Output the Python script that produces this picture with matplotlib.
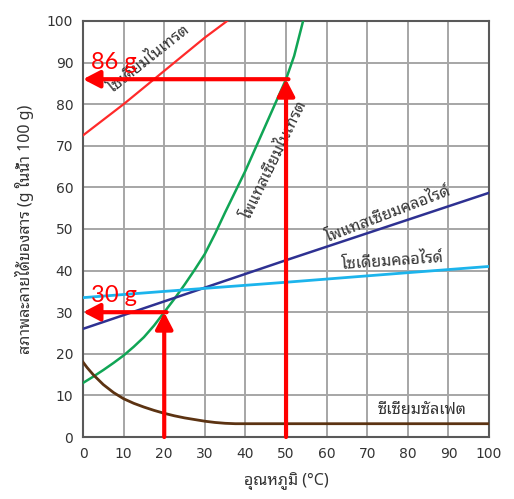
import numpy as np
import matplotlib
matplotlib.use("Agg")
import matplotlib.pyplot as plt

# --- data (temperature in C, solubility in g / 100 g water) ---
nano3_t = [0, 10, 20, 30, 35.5]
nano3_s = [72.5, 80, 88, 96, 100]

kno3_t = [0, 2.5, 5, 7.5, 10, 12.5, 15, 17.5, 20, 22.5, 25, 27.5, 30,
          32.5, 35, 37.5, 40, 42.5, 45, 47.5, 50, 52, 54.2]
kno3_s = [13, 14.5, 16.1, 17.8, 19.6, 21.7, 24, 26.8, 30, 33.2, 36.6, 40.2, 44,
          48.8, 54, 59, 64, 69.5, 75, 80.5, 86, 91.6, 100]

kcl_t = [0, 20, 50, 100]
kcl_s = [26, 32.6, 42.5, 58.7]

nacl_t = [0, 20, 50, 80, 100]
nacl_s = [33.5, 35, 37.2, 39.5, 41]

ce_t = [0, 1, 2.5, 5, 7.5, 10, 12.5, 15, 17.5, 20, 22.5, 25, 27.5, 30,
        32.5, 35, 37.5, 40, 100]
ce_s = [18, 16.7, 15, 12.6, 10.7, 9.2, 8.1, 7.2, 6.4, 5.7, 5.1, 4.6, 4.2, 3.8,
        3.5, 3.3, 3.2, 3.2, 3.2]

# read-off points (temperature, solubility)
read_points = [(50, 86), (20, 30)]
read_labels = ["86 g", "30 g"]

thai = ['Noto Sans Thai Looped', 'DejaVu Sans']
txt_col = '#333333'
arrow_red = '#ff0000'

fig = plt.figure(figsize=(5.14, 4.99), dpi=100)
ax = fig.add_axes([0.1615, 0.1242, 0.790, 0.8338])

ax.plot(nano3_t, nano3_s, color='#ff2a2a', lw=1.6, zorder=3)
ax.plot(kno3_t, kno3_s, color='#10a555', lw=1.8, zorder=3)
ax.plot(kcl_t, kcl_s, color='#2e3192', lw=1.8, zorder=3)
ax.plot(nacl_t, nacl_s, color='#1cb4ec', lw=2.0, zorder=3)
ax.plot(ce_t, ce_s, color='#5c3312', lw=2.0, zorder=3)

# curve names
fs = 11.5
ax.text(16.4, 90.8, "โซเดียมไนเทรต", rotation=38.5, ha='center', va='center',
        fontsize=fs, color=txt_col, family=thai, zorder=4)
ax.text(47.3, 66.6, "โพแทสเซียมไนเทรต", rotation=64, ha='center', va='center',
        fontsize=fs, color=txt_col, family=thai, zorder=4)
ax.text(75.3, 53.6, "โพแทสเซียมคลอไรด์", rotation=21, ha='center', va='center',
        fontsize=fs, color=txt_col, family=thai, zorder=4)
ax.text(76.2, 42.3, "โซเดียมคลอไรด์", rotation=4, ha='center', va='center',
        fontsize=fs, color=txt_col, family=thai, zorder=4)
ax.text(83.5, 6.6, "ซีเซียมซัลเฟต", ha='center', va='center',
        fontsize=fs, color=txt_col, family=thai, zorder=4)

# read-off arrows
for (t, s), lab in zip(read_points, read_labels):
    style = '-|>,head_length=1.0,head_width=0.52'
    ax.annotate('', xy=(0, s), xytext=(t + 0.6, s),
                arrowprops=dict(arrowstyle=style, color=arrow_red, lw=3,
                                shrinkA=0, shrinkB=0, mutation_scale=10),
                zorder=6, annotation_clip=False)
    ax.annotate('', xy=(t, s), xytext=(t, 0),
                arrowprops=dict(arrowstyle=style, color=arrow_red, lw=3,
                                shrinkA=0, shrinkB=0, mutation_scale=10),
                zorder=6, annotation_clip=False)
    ax.text(2.0, s + 2.5, lab, color=arrow_red, fontsize=17, family='Lato',
            ha='left', va='baseline', zorder=7)

ax.set_xlim(0, 100)
ax.set_ylim(0, 100)
ax.set_xticks(np.arange(0, 101, 10))
ax.set_yticks(np.arange(0, 101, 10))
ax.grid(True, color='#a6a6a6', lw=1.4, zorder=0)
ax.set_axisbelow(True)
for sp in ax.spines.values():
    sp.set_color('#595959')
    sp.set_linewidth(1.5)
ax.tick_params(length=0, pad=7, labelsize=10, labelcolor=txt_col)
for lab in ax.get_xticklabels() + ax.get_yticklabels():
    lab.set_family('DejaVu Sans')

ax.set_xlabel("อุณหภูมิ (°C)", family=thai, fontsize=11.5, color=txt_col, labelpad=8)
ax.set_ylabel("สภาพละลายได้ของสาร (g ในน้ำ 100 g)", family=thai, fontsize=11.5,
              color=txt_col, labelpad=9)

fig.savefig("out.png", dpi=100)
